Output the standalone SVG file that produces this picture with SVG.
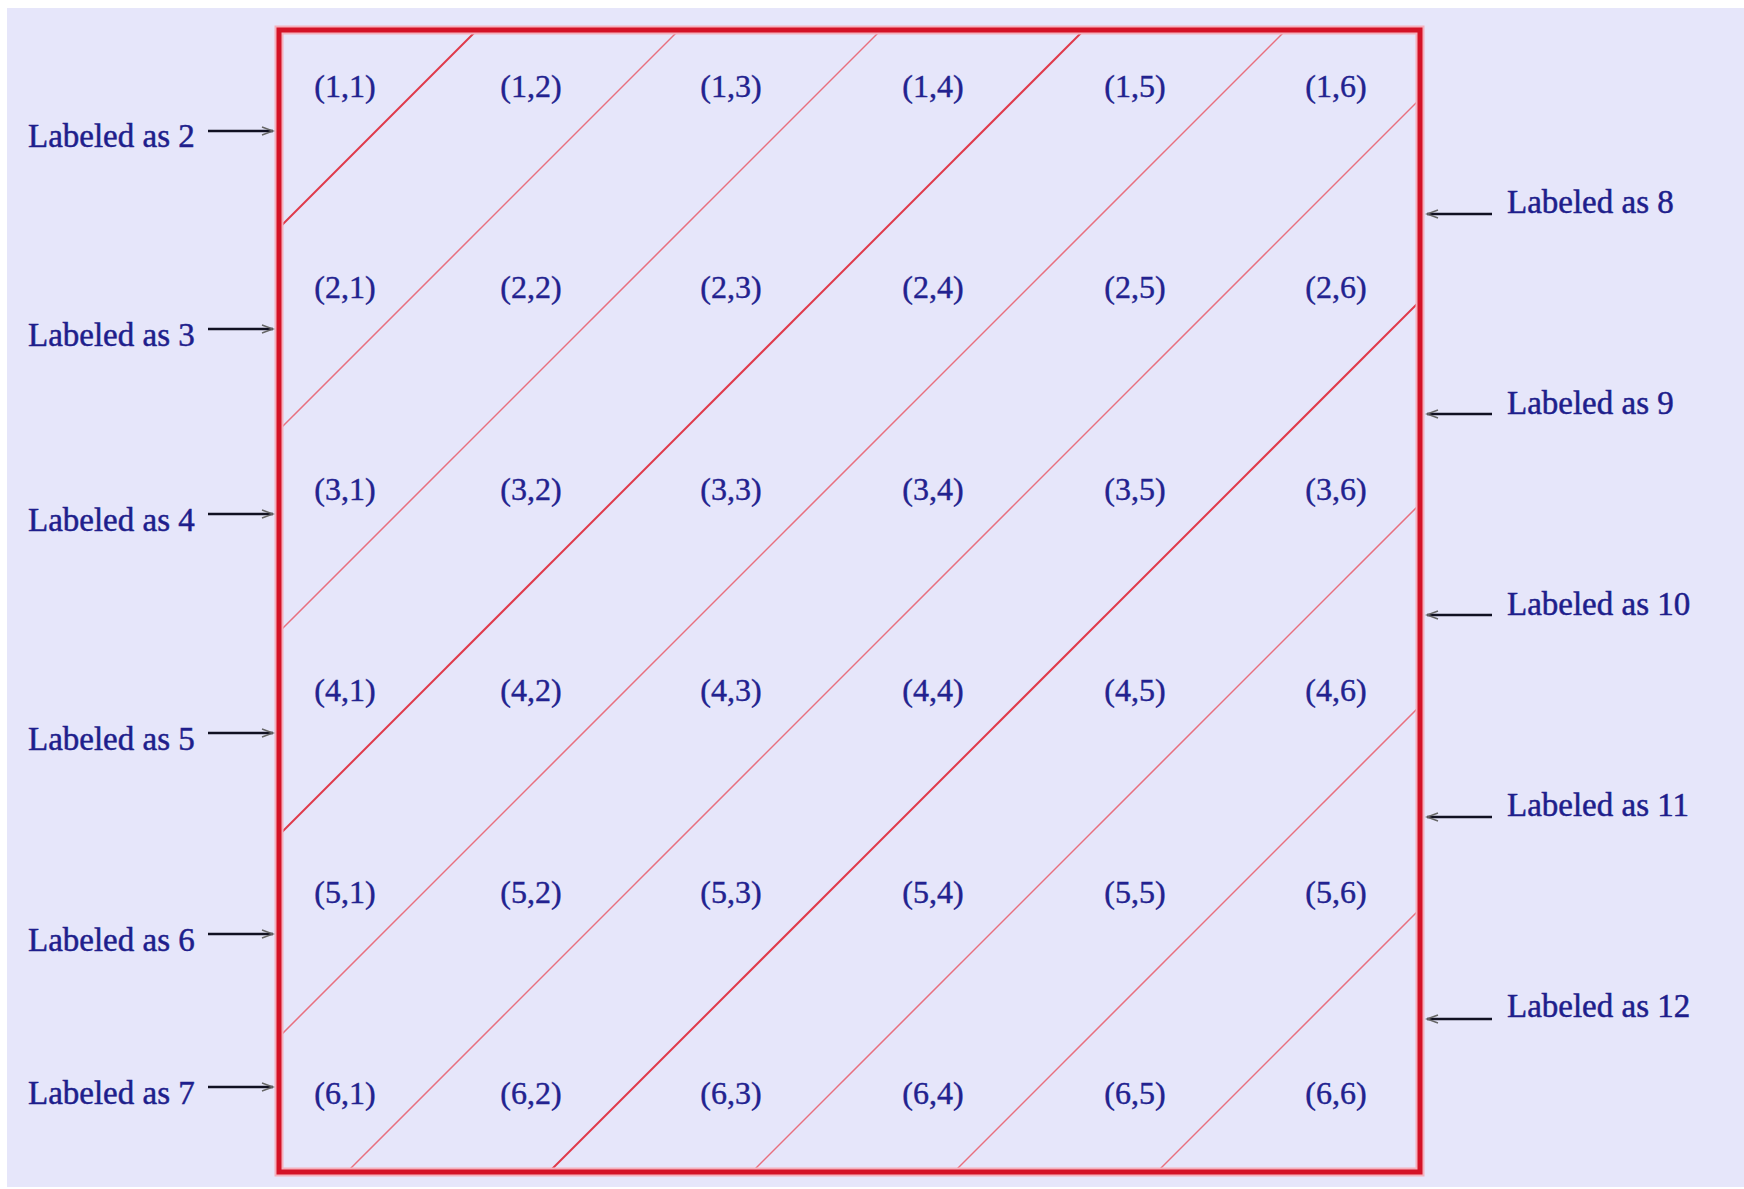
<svg xmlns="http://www.w3.org/2000/svg" width="1744" height="1189" viewBox="0 0 1744 1189">
  <defs>
    <marker id="arr" markerUnits="userSpaceOnUse" markerWidth="14" markerHeight="10" refX="12" refY="5" orient="auto">
      <path d="M1,1 L12,5 L1,9" fill="none" stroke="#666" stroke-width="1.6"/>
    </marker>
    <style>
      .cell { font-family: "Liberation Serif", "Times New Roman", serif; font-size: 32px; fill: #22228f; stroke: #22228f; stroke-width: 0.4; text-anchor: middle; }
      .side { font-family: "Liberation Serif", "Times New Roman", serif; font-size: 33px; fill: #1e1e8c; stroke: #1e1e8c; stroke-width: 0.5; }
      .diag { stroke: #e8707f; stroke-width: 1.5; fill: none; }
      .diag.strong { stroke: #e03a4a; stroke-width: 2; }
      .conn { stroke: #111122; stroke-width: 2.5; fill: none; marker-end: url(#arr); }
    </style>
  </defs>

  <rect x="0" y="0" width="1744" height="1189" fill="#ffffff"/>
  <rect x="7" y="8" width="1737" height="1179" fill="#e6e6fa"/>

  <g id="diagonals">
    <line class="diag strong" x1="477" y1="30" x2="279" y2="228"/>
    <line class="diag" x1="679" y1="30" x2="279" y2="430"/>
    <line class="diag" x1="881" y1="30" x2="279" y2="632"/>
    <line class="diag strong" x1="1084" y1="30" x2="279" y2="835"/>
    <line class="diag" x1="1286" y1="30" x2="279" y2="1037"/>
    <line class="diag" x1="1420" y1="99" x2="347" y2="1172"/>
    <line class="diag strong" x1="1420" y1="301" x2="549" y2="1172"/>
    <line class="diag" x1="1420" y1="504" x2="752" y2="1172"/>
    <line class="diag" x1="1420" y1="706" x2="954" y2="1172"/>
    <line class="diag" x1="1420" y1="909" x2="1157" y2="1172"/>
  </g>

  <g id="frame">
    <rect x="279" y="30" width="1141" height="1142" fill="none" stroke="#f4b0bc" stroke-width="9"/>
    <rect x="279" y="30" width="1141" height="1142" fill="none" stroke="#d41226" stroke-width="5"/>
  </g>

  <g id="cells">
    <g id="row1">
      <text class="cell" x="345" y="97">(1,1)</text>
      <text class="cell" x="531" y="97">(1,2)</text>
      <text class="cell" x="731" y="97">(1,3)</text>
      <text class="cell" x="933" y="97">(1,4)</text>
      <text class="cell" x="1135" y="97">(1,5)</text>
      <text class="cell" x="1336" y="97">(1,6)</text>
    </g>
    <g id="row2">
      <text class="cell" x="345" y="298">(2,1)</text>
      <text class="cell" x="531" y="298">(2,2)</text>
      <text class="cell" x="731" y="298">(2,3)</text>
      <text class="cell" x="933" y="298">(2,4)</text>
      <text class="cell" x="1135" y="298">(2,5)</text>
      <text class="cell" x="1336" y="298">(2,6)</text>
    </g>
    <g id="row3">
      <text class="cell" x="345" y="500">(3,1)</text>
      <text class="cell" x="531" y="500">(3,2)</text>
      <text class="cell" x="731" y="500">(3,3)</text>
      <text class="cell" x="933" y="500">(3,4)</text>
      <text class="cell" x="1135" y="500">(3,5)</text>
      <text class="cell" x="1336" y="500">(3,6)</text>
    </g>
    <g id="row4">
      <text class="cell" x="345" y="701">(4,1)</text>
      <text class="cell" x="531" y="701">(4,2)</text>
      <text class="cell" x="731" y="701">(4,3)</text>
      <text class="cell" x="933" y="701">(4,4)</text>
      <text class="cell" x="1135" y="701">(4,5)</text>
      <text class="cell" x="1336" y="701">(4,6)</text>
    </g>
    <g id="row5">
      <text class="cell" x="345" y="903">(5,1)</text>
      <text class="cell" x="531" y="903">(5,2)</text>
      <text class="cell" x="731" y="903">(5,3)</text>
      <text class="cell" x="933" y="903">(5,4)</text>
      <text class="cell" x="1135" y="903">(5,5)</text>
      <text class="cell" x="1336" y="903">(5,6)</text>
    </g>
    <g id="row6">
      <text class="cell" x="345" y="1104">(6,1)</text>
      <text class="cell" x="531" y="1104">(6,2)</text>
      <text class="cell" x="731" y="1104">(6,3)</text>
      <text class="cell" x="933" y="1104">(6,4)</text>
      <text class="cell" x="1135" y="1104">(6,5)</text>
      <text class="cell" x="1336" y="1104">(6,6)</text>
    </g>
  </g>

  <g id="left-labels">
    <g id="label2"><text class="side" x="28" y="147">Labeled as 2</text></g>
    <g id="label3"><text class="side" x="28" y="346">Labeled as 3</text></g>
    <g id="label4"><text class="side" x="28" y="531">Labeled as 4</text></g>
    <g id="label5"><text class="side" x="28" y="750">Labeled as 5</text></g>
    <g id="label6"><text class="side" x="28" y="951">Labeled as 6</text></g>
    <g id="label7"><text class="side" x="28" y="1104">Labeled as 7</text></g>
  </g>

  <g id="right-labels">
    <g id="label8"><text class="side" x="1507" y="213">Labeled as 8</text></g>
    <g id="label9"><text class="side" x="1507" y="414">Labeled as 9</text></g>
    <g id="label10"><text class="side" x="1507" y="615">Labeled as 10</text></g>
    <g id="label11"><text class="side" x="1507" y="816">Labeled as 11</text></g>
    <g id="label12"><text class="side" x="1507" y="1017">Labeled as 12</text></g>
  </g>

  <g id="connectors">
    <line class="conn" x1="208" y1="131" x2="273" y2="131"/>
    <line class="conn" x1="208" y1="329" x2="273" y2="329"/>
    <line class="conn" x1="208" y1="514" x2="273" y2="514"/>
    <line class="conn" x1="208" y1="733" x2="273" y2="733"/>
    <line class="conn" x1="208" y1="934" x2="273" y2="934"/>
    <line class="conn" x1="208" y1="1087" x2="273" y2="1087"/>
    <line class="conn" x1="1492" y1="214" x2="1427" y2="214"/>
    <line class="conn" x1="1492" y1="414" x2="1427" y2="414"/>
    <line class="conn" x1="1492" y1="615" x2="1427" y2="615"/>
    <line class="conn" x1="1492" y1="817" x2="1427" y2="817"/>
    <line class="conn" x1="1492" y1="1019" x2="1427" y2="1019"/>
  </g>
</svg>
